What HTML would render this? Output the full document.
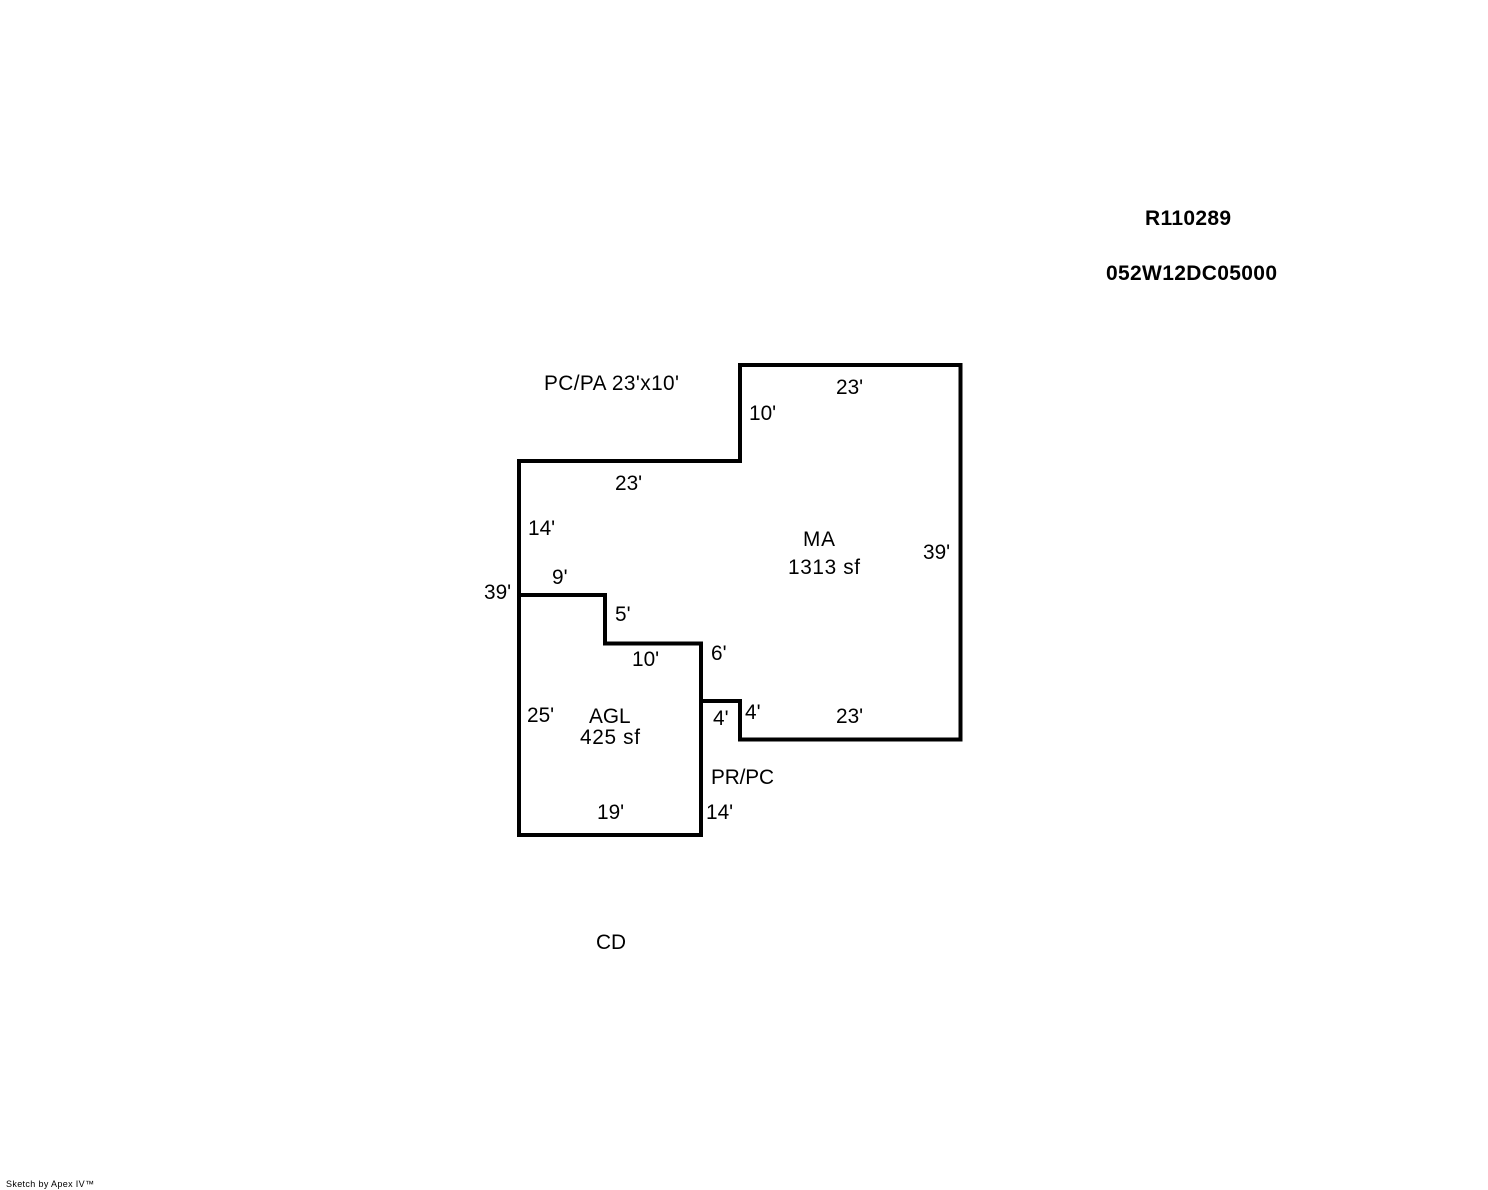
<!DOCTYPE html>
<html>
<head>
<meta charset="utf-8">
<style>
html,body{margin:0;padding:0;background:#fff;width:1488px;height:1190px;overflow:hidden}
svg{display:block}
text{font-family:"Liberation Sans",Arial,sans-serif;font-size:20.8px;fill:#000}
.b{font-weight:bold;font-size:21px}
.s{font-size:9px}
</style>
</head>
<body>
<svg width="1488" height="1190" viewBox="0 0 1488 1190" xmlns="http://www.w3.org/2000/svg">
<g fill="none" stroke="#000" stroke-width="4" stroke-linecap="square" stroke-linejoin="miter">
<path d="M519 595V461H740V365H960.5V739.5H740V701H701"/>
<path d="M519 595H605V643.5H701V835H519Z"/>
</g>
<text class="b" x="1145" y="225" textLength="86">R110289</text>
<text class="b" x="1106" y="280" textLength="171">052W12DC05000</text>
<text x="544" y="390" textLength="135">PC/PA 23'x10'</text>
<text x="836" y="394">23'</text>
<text x="749" y="420">10'</text>
<text x="615" y="490">23'</text>
<text x="528" y="535">14'</text>
<text x="803" y="546" textLength="32">MA</text>
<text x="788" y="574" textLength="72">1313 sf</text>
<text x="923" y="559">39'</text>
<text x="552" y="584">9'</text>
<text x="484" y="599">39'</text>
<text x="615" y="621">5'</text>
<text x="632" y="666">10'</text>
<text x="711" y="660">6'</text>
<text x="745" y="719">4'</text>
<text x="713" y="725">4'</text>
<text x="836" y="723">23'</text>
<text x="527" y="722">25'</text>
<text x="589" y="723">AGL</text>
<text x="580" y="744" textLength="60">425 sf</text>
<text x="711" y="784" textLength="63">PR/PC</text>
<text x="597" y="819">19'</text>
<text x="706" y="819">14'</text>
<text x="596" y="949" textLength="30">CD</text>
<text class="s" x="6" y="1187" textLength="88">Sketch by Apex IV™</text>
</svg>
</body>
</html>
